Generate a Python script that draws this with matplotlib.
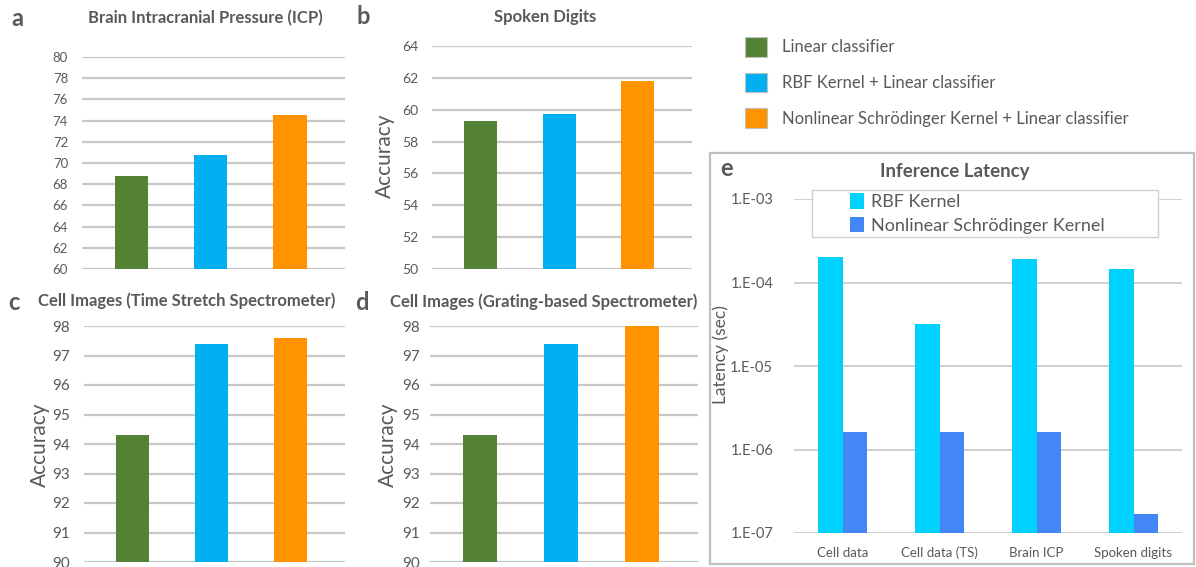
import matplotlib.pyplot as plt
import matplotlib.patches as mpatches
import numpy as np

W, H = 1196, 567

# data
methods = ["Linear classifier", "RBF Kernel + Linear classifier",
           "Nonlinear Schrödinger Kernel + Linear classifier"]
method_colors = ["#548235", "#00B0F0", "#FF9300"]

icp_acc = [68.8, 70.8, 74.5]
digits_acc = [59.3, 59.7, 61.8]
ts_acc = [94.3, 97.4, 97.6]
grating_acc = [94.3, 97.4, 98.0]

lat_categories = ["Cell data", "Cell data (TS)", "Brain ICP", "Spoken digits"]
lat_series = ["RBF Kernel", "Nonlinear Schrödinger Kernel"]
lat_rbf = [2.0e-4, 3.2e-5, 1.93e-4, 1.44e-4]
lat_nlse = [1.6e-6, 1.6e-6, 1.6e-6, 1.67e-7]
lat_ticks = [1e-3, 1e-4, 1e-5, 1e-6, 1e-7]
lat_ticklabels = ["1.E-03", "1.E-04", "1.E-05", "1.E-06", "1.E-07"]

TXT = "#595959"
GRID = "#C8C8C8"
plt.rcParams["font.family"] = ["Lato", "DejaVu Sans"]

fig = plt.figure(figsize=(W / 100, H / 100), dpi=100)


def ax_px(x0, ytop, x1, ybot):
    return fig.add_axes([x0 / W, 1 - ybot / H, (x1 - x0) / W, (ybot - ytop) / H])


def ftext(x, y, s, **kw):
    fig.text(x / W, 1 - y / H, s, color=TXT, va="center", **kw)


def acc_panel(box, vals, ylim, step, tick_fs, pad=10):
    ax = ax_px(*box)
    ax.bar(range(3), vals, width=0.42, color=method_colors, zorder=3)
    ax.set_xlim(-0.62, 2.69)
    ax.set_ylim(*ylim)
    ax.set_yticks(np.arange(ylim[0], ylim[1] + 0.01, step))
    ax.set_xticks([])
    ax.yaxis.grid(True, color=GRID, lw=1.6, zorder=0)
    ax.tick_params(axis="y", length=0, labelsize=tick_fs, colors=TXT, pad=pad)
    for s in ax.spines.values():
        s.set_visible(False)
    return ax


acc_panel((82, 57, 345, 269), icp_acc, (60, 80), 2, 9.5)
acc_panel((432, 46, 692, 269), digits_acc, (50, 64), 2, 10)
acc_panel((84, 326, 345, 562), ts_acc, (90, 98), 1, 11)
acc_panel((430, 326, 698, 562), grating_acc, (90, 98), 1, 11, pad=7)

# panel letters and titles
ftext(17, 18, "a", fontsize=17, fontweight="bold", ha="center")
ftext(205, 18, "Brain Intracranial Pressure (ICP)", fontsize=12, fontweight="bold", ha="center")
ftext(363, 17, "b", fontsize=17, fontweight="bold", ha="center")
ftext(545, 17, "Spoken Digits", fontsize=12, fontweight="bold", ha="center")
ftext(14, 302, "c", fontsize=17, fontweight="bold", ha="center")
ftext(187, 301, "Cell Images (Time Stretch Spectrometer)", fontsize=12, fontweight="bold", ha="center")
ftext(362, 302, "d", fontsize=17, fontweight="bold", ha="center")
ftext(544, 302, "Cell Images (Grating-based Spectrometer)", fontsize=12, fontweight="bold", ha="center")
ftext(385, 156, "Accuracy", fontsize=15, rotation=90, ha="center")
ftext(40, 445, "Accuracy", fontsize=15, rotation=90, ha="center")
ftext(388, 445, "Accuracy", fontsize=15, rotation=90, ha="center")

# shared legend for a-d
handles = [mpatches.Patch(facecolor=c, edgecolor="#BFBFBF", lw=0.8) for c in method_colors]
fig.legend(handles, methods, loc="upper left", bbox_to_anchor=(730 / W, 1 - 22 / H),
           frameon=False, fontsize=12, handlelength=1.3, handleheight=1.45,
           labelspacing=0.95, handletextpad=0.95, labelcolor=TXT)

# panel e frame
fig.patches.append(mpatches.Rectangle((710 / W, 1 - 564 / H), (1194 - 710) / W, (564 - 153) / H,
                                      transform=fig.transFigure, fill=False,
                                      edgecolor="#BFBFBF", lw=1.6))

ax = ax_px(794, 199, 1182, 533)
x = np.arange(len(lat_categories))
bw = 0.25
ax.bar(x - bw / 2, lat_rbf, width=bw, color="#00D2FF", label=lat_series[0], zorder=3)
ax.bar(x + bw / 2, lat_nlse, width=bw, color="#4287F5", label=lat_series[1], zorder=3)
ax.set_yscale("log")
ax.set_ylim(1e-7, 1e-3)
ax.set_xlim(-0.5, 3.5)
ax.set_yticks(lat_ticks)
ax.set_yticklabels(lat_ticklabels)
ax.minorticks_off()
ax.set_xticks(x)
ax.set_xticklabels(lat_categories)
ax.yaxis.grid(True, color=GRID, lw=1.2, zorder=0)
ax.tick_params(axis="y", length=0, labelsize=10.5, colors=TXT, pad=15)
ax.tick_params(axis="x", length=0, labelsize=9.5, colors=TXT, pad=10)
for s in ax.spines.values():
    s.set_visible(False)
ftext(721, 355, "Latency (sec)", fontsize=12.5, rotation=90, ha="center")

# legend box of panel e (wider than its content, covering the top grid line)
fig.patches.append(mpatches.Rectangle((812 / W, 1 - 237 / H), (1158 - 812) / W, (237 - 190) / H,
                                      transform=fig.transFigure, facecolor="white",
                                      edgecolor="#D0D0D0", lw=1.0, zorder=2))
h, l = ax.get_legend_handles_labels()
lg = fig.legend(h, l, loc="upper left", bbox_to_anchor=(834 / W, 1 - 177 / H), fontsize=13,
                frameon=False, handlelength=0.75, handleheight=0.95, handletextpad=0.4,
                labelspacing=0.35, labelcolor=TXT)
lg.set_zorder(3)
ftext(727, 169, "e", fontsize=17, fontweight="bold", ha="center")
ftext(955, 172, "Inference Latency", fontsize=13.5, fontweight="bold", ha="center")

fig.savefig("out.png", dpi=100)
